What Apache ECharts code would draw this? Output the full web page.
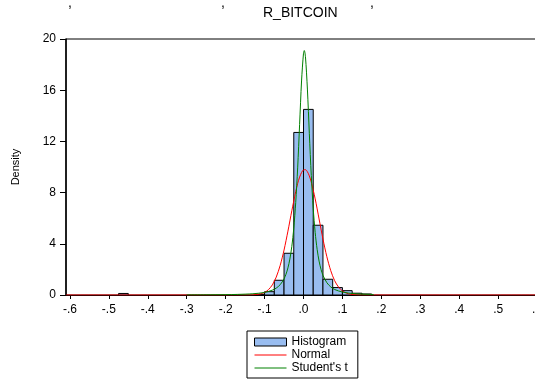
<!DOCTYPE html>
<html>
<head>
<meta charset="utf-8">
<script src="https://cdn.jsdelivr.net/npm/echarts@6/dist/echarts.min.js"></script>
<style>
html,body{margin:0;padding:0;background:#fff;}
#c{width:535px;height:379px;}
</style>
</head>
<body>
<div id="c"></div>
<script>
const chartTitle = 'R_BITCOIN';
const yAxisTitle = 'Density';
const seriesNames = ['Histogram', 'Normal', "Student's t"];

// histogram bins (left edge) and density heights
const binWidth = 0.025;
const binLeft = [-0.475, -0.125, -0.1, -0.075, -0.05, -0.025, 0, 0.025, 0.05, 0.075, 0.1, 0.125, 0.15];
const binDensity = [0.12, 0.05, 0.26, 1.15, 3.26, 12.7, 14.5, 5.45, 1.23, 0.58, 0.34, 0.14, 0.08];

// fitted normal density
const normalX = [-0.61, -0.2, -0.16, -0.13, -0.11, -0.10, -0.09, -0.08, -0.07, -0.06, -0.05, -0.04, -0.03, -0.02, -0.015, -0.01, -0.005, 0, 0.005, 0.01, 0.015, 0.02, 0.03, 0.04, 0.05, 0.06, 0.07, 0.08, 0.09, 0.10, 0.11, 0.12, 0.14, 0.17, 0.61];
const normalY = [0, 0, 0.001, 0.015, 0.09, 0.2, 0.42, 0.79, 1.40, 2.30, 3.51, 4.99, 6.58, 8.08, 8.71, 9.21, 9.57, 9.77, 9.79, 9.63, 9.30, 8.82, 7.51, 5.94, 4.37, 2.99, 1.90, 1.12, 0.62, 0.32, 0.15, 0.066, 0.01, 0, 0];

// fitted Student's t density
const studentX = [-0.3, -0.25, -0.2, -0.17, -0.13, -0.1, -0.08, -0.07, -0.06, -0.05, -0.045, -0.04, -0.035, -0.03, -0.025, -0.02, -0.015, -0.01, -0.005, 0, 0.002, 0.005, 0.01, 0.015, 0.02, 0.025, 0.03, 0.035, 0.04, 0.045, 0.05, 0.06, 0.07, 0.08, 0.1, 0.13, 0.17, 0.18];
const studentY = [0.008, 0.014, 0.028, 0.046, 0.097, 0.20, 0.38, 0.54, 0.80, 1.26, 1.62, 2.12, 2.81, 3.80, 5.21, 7.21, 9.93, 13.31, 16.72, 18.89, 19.1, 18.62, 16.09, 12.60, 9.33, 6.75, 4.88, 3.57, 2.65, 2.00, 1.54, 0.96, 0.63, 0.43, 0.23, 0.106, 0.048, 0.04];

const xTickValues = [-0.6, -0.5, -0.4, -0.3, -0.2, -0.1, 0, 0.1, 0.2, 0.3, 0.4, 0.5, 0.6];
const xMin = -0.61, xMax = 0.61;
const yMin = 0, yMax = 20, yStep = 4;

const histColor = '#99bdf0';
const font = 'Liberation Sans, Arial, sans-serif';

const histData = binLeft.map((l, i) => [l, l + binWidth, binDensity[i]]);
const normalData = normalX.map((x, i) => [x, normalY[i]]);
const studentData = studentX.map((x, i) => [x, studentY[i]]);

function fmtTick(v) {
  const r = Math.round(v * 10) / 10;
  let s = Math.abs(r).toFixed(1).replace(/^0/, '');
  return (r < 0 ? '-' : '') + s;
}

const chart = echarts.init(document.getElementById('c'), null, {renderer: 'canvas'});
chart.setOption({
  animation: false,
  backgroundColor: '#fff',
  title: {
    text: chartTitle,
    left: 258, top: 1,
    textStyle: {fontFamily: font, fontSize: 14, fontWeight: 'normal', color: '#000'}
  },
  graphic: [
    {type: 'text', x: 68, y: 3, style: {text: ',', font: '14px ' + font, fill: '#000', verticalAlign: 'middle'}},
    {type: 'text', x: 221, y: 3, style: {text: ',', font: '14px ' + font, fill: '#000', verticalAlign: 'middle'}},
    {type: 'text', x: 370, y: 3, style: {text: ',', font: '14px ' + font, fill: '#000', verticalAlign: 'middle'}}
  ],
  grid: {
    left: 66, top: 39, bottom: 84, right: -6,
    outerBoundsMode: 'none',
    show: true, borderColor: '#000', borderWidth: 1, backgroundColor: 'transparent',
    containLabel: false
  },
  xAxis: {
    type: 'value', min: xMin, max: xMax,
    axisLine: {show: true, onZero: false, lineStyle: {color: '#000', width: 1}},
    axisTick: {show: true, customValues: xTickValues, length: 4, lineStyle: {color: '#000'}},
    axisLabel: {customValues: xTickValues, formatter: fmtTick, margin: 9, fontFamily: font, fontSize: 12, color: '#000'},
    splitLine: {show: false}
  },
  yAxis: {
    type: 'value', min: yMin, max: yMax, interval: yStep,
    name: yAxisTitle, nameLocation: 'middle', nameRotate: 90, nameGap: 45,
    nameTextStyle: {fontFamily: font, fontSize: 11, color: '#000'},
    axisLine: {show: true, onZero: false, lineStyle: {color: '#000', width: 1.5}},
    axisTick: {show: true, length: 6, lineStyle: {color: '#000'}},
    axisLabel: {margin: 10, fontFamily: font, fontSize: 12, color: '#000'},
    splitLine: {show: false}
  },
  legend: {
    orient: 'vertical',
    left: 247, top: 331,
    backgroundColor: '#fff',
    borderColor: '#000', borderWidth: 1,
    padding: [5, 10, 4, 7],
    itemWidth: 32, itemHeight: 8, itemGap: 1,
    textStyle: {fontFamily: font, fontSize: 12, color: '#000', lineHeight: 12},
    data: [
      {name: seriesNames[0], icon: 'rect', itemStyle: {color: histColor, borderColor: '#000', borderWidth: 1}},
      {name: seriesNames[1], itemStyle: {opacity: 0}, lineStyle: {width: 1, color: '#ff0000'}},
      {name: seriesNames[2], itemStyle: {opacity: 0}, lineStyle: {width: 1, color: '#008000'}}
    ]
  },
  series: [
    {
      name: seriesNames[0],
      type: 'custom',
      itemStyle: {color: histColor, borderColor: '#000'},
      encode: {x: [0, 1], y: 2},
      data: histData,
      renderItem: function (params, api) {
        const p0 = api.coord([api.value(0), api.value(2)]);
        const p1 = api.coord([api.value(1), 0]);
        return {
          type: 'rect',
          shape: {x: p0[0], y: p0[1], width: p1[0] - p0[0], height: p1[1] - p0[1]},
          style: {fill: histColor, stroke: '#000', lineWidth: 1}
        };
      },
      z: 2
    },
    {
      name: seriesNames[1],
      type: 'line',
      data: normalData,
      showSymbol: false, symbol: 'none',
      smooth: 0.3,
      lineStyle: {color: '#ff0000', width: 1},
      itemStyle: {color: '#ff0000'},
      z: 3
    },
    {
      name: seriesNames[2],
      type: 'line',
      data: studentData,
      showSymbol: false, symbol: 'none',
      smooth: 0.3,
      lineStyle: {color: '#008000', width: 1},
      itemStyle: {color: '#008000'},
      z: 4
    }
  ]
});
</script>
</body>
</html>
